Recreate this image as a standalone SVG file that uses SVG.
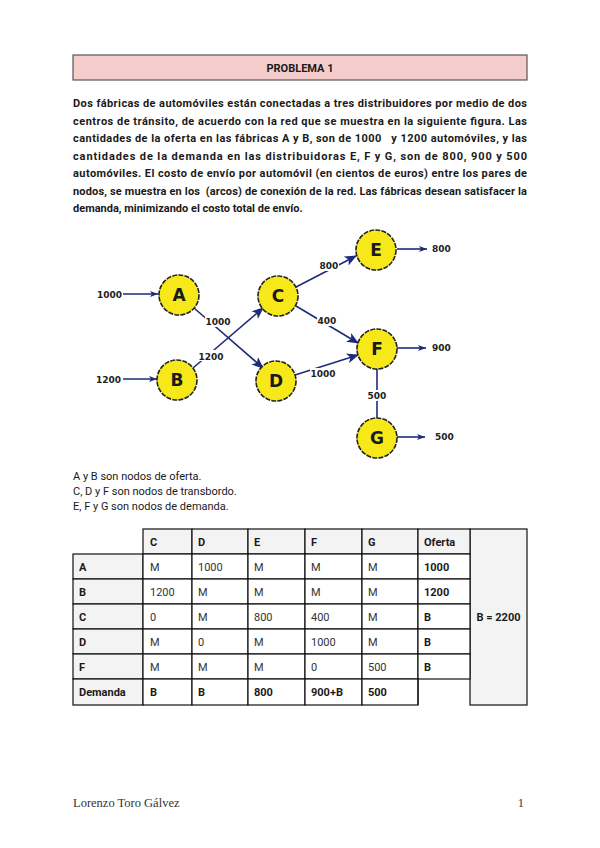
<svg xmlns="http://www.w3.org/2000/svg" width="600" height="848" viewBox="0 0 600 848">
<defs>
<style>
.p{font-family:Roboto,"Liberation Sans",sans-serif;font-size:11px;font-weight:bold;fill:#1a1a1a}
.n{font-family:Roboto,"Liberation Sans",sans-serif;font-size:11px;fill:#1a1a1a}
.nd{fill:#f7e81a;stroke:#222;stroke-width:1.6;stroke-dasharray:5 1.2}
.lt{font-family:"DejaVu Sans",Verdana,sans-serif;font-size:17px;font-weight:bold;fill:#1a1a1a;text-anchor:middle}
.el{font-family:"DejaVu Sans",Verdana,sans-serif;font-size:9px;font-weight:bold;fill:#222}
.e{stroke:#1f2a7a;stroke-width:1.6;fill:none}
.cell{fill:#fff;stroke:#111;stroke-width:1.2}
.hc{fill:#f3f3f3;stroke:#111;stroke-width:1.2}
.tb{font-family:Roboto,"Liberation Sans",sans-serif;font-size:11px;font-weight:bold;fill:#1a1a1a}
.tr{font-family:Roboto,"Liberation Sans",sans-serif;font-size:11px;fill:#333}
.ft{font-family:"Liberation Serif","DejaVu Serif",serif;font-size:12.5px;fill:#333}
</style>
<marker id="big" viewBox="0 0 12 10" refX="11" refY="5" markerWidth="12" markerHeight="10" markerUnits="userSpaceOnUse" orient="auto">
<path d="M0,0 L12,5 L0,10 L3,5 Z" fill="#1f2a7a"/>
</marker>
<marker id="sm" viewBox="0 0 8 6" refX="8" refY="3" markerWidth="8" markerHeight="6" markerUnits="userSpaceOnUse" orient="auto">
<path d="M0,0 L8,3 L0,6 L2,3 Z" fill="#1f2a7a"/>
</marker>
</defs>
<rect width="600" height="848" fill="#fff"/>

<g id="title">
<rect x="73" y="55" width="454" height="25" fill="#f4cccc" stroke="#555" stroke-width="1.2"/>
<text x="300" y="71.5" class="p" text-anchor="middle">PROBLEMA 1</text>
</g>

<g id="paragraph">
<text class="p" x="73" y="107" textLength="454" lengthAdjust="spacing">Dos fábricas de automóviles están conectadas a tres distribuidores por medio de dos</text>
<text class="p" x="73" y="124.5" textLength="454" lengthAdjust="spacing">centros de tránsito, de acuerdo con la red que se muestra en la siguiente figura. Las</text>
<text class="p" x="73" y="142" textLength="454" lengthAdjust="spacing" xml:space="preserve">cantidades de la oferta en las fábricas A y B, son de 1000   y 1200 automóviles, y las</text>
<text class="p" x="73" y="159.5" textLength="454" lengthAdjust="spacing">cantidades de la demanda en las distribuidoras E, F y G, son de 800, 900 y 500</text>
<text class="p" x="73" y="177" textLength="454" lengthAdjust="spacing">automóviles. El costo de envío por automóvil (en cientos de euros) entre los pares de</text>
<text class="p" x="73" y="194.5" textLength="454" lengthAdjust="spacing" xml:space="preserve">nodos, se muestra en los  (arcos) de conexión de la red. Las fábricas desean satisfacer la</text>
<text class="p" x="73" y="212">demanda, minimizando el costo total de envío.</text>
</g>

<g id="connectors">
<line class="e" x1="123" y1="294" x2="158" y2="294" marker-end="url(#sm)"/>
<line class="e" x1="123" y1="379" x2="157" y2="379" stroke-width="2.4" marker-end="url(#sm)"/>
<line class="e" x1="194" y1="308" x2="263" y2="368" marker-end="url(#big)"/>
<line class="e" x1="193" y1="368" x2="263" y2="308" marker-end="url(#big)"/>
<line class="e" x1="296" y1="287" x2="356" y2="256" marker-end="url(#big)"/>
<line class="e" x1="296" y1="306" x2="358" y2="343" marker-end="url(#big)"/>
<line class="e" x1="295" y1="375" x2="358" y2="355" marker-end="url(#big)"/>
<line class="e" x1="377" y1="369" x2="377" y2="418"/>
<line class="e" x1="397" y1="249" x2="427" y2="249" marker-end="url(#sm)"/>
<line class="e" x1="397" y1="348" x2="426" y2="348" marker-end="url(#sm)"/>
<line class="e" x1="397" y1="437" x2="425" y2="437" marker-end="url(#sm)"/>
<rect x="205" y="316" width="26" height="11" fill="#fff"/>
<rect x="198" y="350" width="26" height="11" fill="#fff"/>
<rect x="319" y="260" width="20" height="11" fill="#fff"/>
<rect x="317" y="315" width="20" height="11" fill="#fff"/>
<rect x="310" y="368" width="26" height="11" fill="#fff"/>
<rect x="367" y="390" width="20" height="11" fill="#fff"/>
<text class="el" x="97" y="297.5">1000</text>
<text class="el" x="96" y="382.5">1200</text>
<text class="el" x="218" y="325" text-anchor="middle">1000</text>
<text class="el" x="211" y="359.5" text-anchor="middle">1200</text>
<text class="el" x="329" y="269" text-anchor="middle">800</text>
<text class="el" x="327" y="324" text-anchor="middle">400</text>
<text class="el" x="323" y="377" text-anchor="middle">1000</text>
<text class="el" x="377" y="399" text-anchor="middle">500</text>
<text class="el" x="432" y="251.5">800</text>
<text class="el" x="432" y="350.5">900</text>
<text class="el" x="435" y="440">500</text>
</g>

<g id="node-A"><circle class="nd" cx="179" cy="295" r="20"/><text class="lt" x="179" y="301">A</text></g>
<g id="node-B"><circle class="nd" cx="177" cy="380" r="20"/><text class="lt" x="177" y="386">B</text></g>
<g id="node-C"><circle class="nd" cx="278" cy="296" r="20"/><text class="lt" x="278" y="302">C</text></g>
<g id="node-D"><circle class="nd" cx="276" cy="381" r="20"/><text class="lt" x="276" y="387">D</text></g>
<g id="node-E"><circle class="nd" cx="376" cy="250" r="20"/><text class="lt" x="376" y="256">E</text></g>
<g id="node-F"><circle class="nd" cx="377" cy="349" r="20"/><text class="lt" x="377" y="355">F</text></g>
<g id="node-G"><circle class="nd" cx="377" cy="438" r="20"/><text class="lt" x="377" y="444">G</text></g>

<g id="notes">
<text class="n" x="73" y="480">A y B son nodos de oferta.</text>
<text class="n" x="73" y="495">C, D y F son nodos de transbordo.</text>
<text class="n" x="73" y="510">E, F y G son nodos de demanda.</text>
</g>

<g id="table">
<rect class="hc" x="470" y="529" width="57" height="176"/>
<rect class="hc" x="143" y="529" width="49" height="25"/>
<rect class="hc" x="192" y="529" width="56" height="25"/>
<rect class="hc" x="248" y="529" width="57" height="25"/>
<rect class="hc" x="305" y="529" width="57" height="25"/>
<rect class="hc" x="362" y="529" width="56" height="25"/>
<rect class="hc" x="418" y="529" width="52" height="25"/>
<g>
<rect class="hc" x="73" y="554" width="70" height="25"/><rect class="cell" x="143" y="554" width="49" height="25"/><rect class="cell" x="192" y="554" width="56" height="25"/><rect class="cell" x="248" y="554" width="57" height="25"/><rect class="cell" x="305" y="554" width="57" height="25"/><rect class="cell" x="362" y="554" width="56" height="25"/><rect class="cell" x="418" y="554" width="52" height="25"/>
<rect class="hc" x="73" y="579" width="70" height="25"/><rect class="cell" x="143" y="579" width="49" height="25"/><rect class="cell" x="192" y="579" width="56" height="25"/><rect class="cell" x="248" y="579" width="57" height="25"/><rect class="cell" x="305" y="579" width="57" height="25"/><rect class="cell" x="362" y="579" width="56" height="25"/><rect class="cell" x="418" y="579" width="52" height="25"/>
<rect class="hc" x="73" y="604" width="70" height="25"/><rect class="cell" x="143" y="604" width="49" height="25"/><rect class="cell" x="192" y="604" width="56" height="25"/><rect class="cell" x="248" y="604" width="57" height="25"/><rect class="cell" x="305" y="604" width="57" height="25"/><rect class="cell" x="362" y="604" width="56" height="25"/><rect class="cell" x="418" y="604" width="52" height="25"/>
<rect class="hc" x="73" y="629" width="70" height="25"/><rect class="cell" x="143" y="629" width="49" height="25"/><rect class="cell" x="192" y="629" width="56" height="25"/><rect class="cell" x="248" y="629" width="57" height="25"/><rect class="cell" x="305" y="629" width="57" height="25"/><rect class="cell" x="362" y="629" width="56" height="25"/><rect class="cell" x="418" y="629" width="52" height="25"/>
<rect class="hc" x="73" y="654" width="70" height="25"/><rect class="cell" x="143" y="654" width="49" height="25"/><rect class="cell" x="192" y="654" width="56" height="25"/><rect class="cell" x="248" y="654" width="57" height="25"/><rect class="cell" x="305" y="654" width="57" height="25"/><rect class="cell" x="362" y="654" width="56" height="25"/><rect class="cell" x="418" y="654" width="52" height="25"/>
<rect class="hc" x="73" y="679" width="70" height="26"/><rect class="cell" x="143" y="679" width="49" height="26"/><rect class="cell" x="192" y="679" width="56" height="26"/><rect class="cell" x="248" y="679" width="57" height="26"/><rect class="cell" x="305" y="679" width="57" height="26"/><rect class="cell" x="362" y="679" width="56" height="26"/>
</g>
<line x1="418" y1="679" x2="418" y2="705" stroke="#111" stroke-width="1.2"/>
<text class="tb" x="150" y="545.5">C</text><text class="tb" x="198" y="545.5">D</text><text class="tb" x="254" y="545.5">E</text><text class="tb" x="311" y="545.5">F</text><text class="tb" x="368" y="545.5">G</text><text class="tb" x="424" y="545.5">Oferta</text>
<text class="tb" x="79" y="570.5">A</text><text class="tr" x="150" y="570.5">M</text><text class="tr" x="198" y="570.5">1000</text><text class="tr" x="254" y="570.5">M</text><text class="tr" x="311" y="570.5">M</text><text class="tr" x="368" y="570.5">M</text><text class="tb" x="424" y="570.5">1000</text>
<text class="tb" x="79" y="595.5">B</text><text class="tr" x="150" y="595.5">1200</text><text class="tr" x="198" y="595.5">M</text><text class="tr" x="254" y="595.5">M</text><text class="tr" x="311" y="595.5">M</text><text class="tr" x="368" y="595.5">M</text><text class="tb" x="424" y="595.5">1200</text>
<text class="tb" x="79" y="620.5">C</text><text class="tr" x="150" y="620.5">0</text><text class="tr" x="198" y="620.5">M</text><text class="tr" x="254" y="620.5">800</text><text class="tr" x="311" y="620.5">400</text><text class="tr" x="368" y="620.5">M</text><text class="tb" x="424" y="620.5">B</text>
<text class="tb" x="79" y="645.5">D</text><text class="tr" x="150" y="645.5">M</text><text class="tr" x="198" y="645.5">0</text><text class="tr" x="254" y="645.5">M</text><text class="tr" x="311" y="645.5">1000</text><text class="tr" x="368" y="645.5">M</text><text class="tb" x="424" y="645.5">B</text>
<text class="tb" x="79" y="670.5">F</text><text class="tr" x="150" y="670.5">M</text><text class="tr" x="198" y="670.5">M</text><text class="tr" x="254" y="670.5">M</text><text class="tr" x="311" y="670.5">0</text><text class="tr" x="368" y="670.5">500</text><text class="tb" x="424" y="670.5">B</text>
<text class="tb" x="79" y="696">Demanda</text><text class="tb" x="150" y="696">B</text><text class="tb" x="198" y="696">B</text><text class="tb" x="254" y="696">800</text><text class="tb" x="311" y="696">900+B</text><text class="tb" x="368" y="696">500</text>
<text class="tb" x="498.5" y="620.5" text-anchor="middle">B = 2200</text>
</g>

<g id="footer">
<text class="ft" x="73" y="807">Lorenzo Toro Gálvez</text>
<text class="ft" x="524" y="807" text-anchor="end">1</text>
</g>
</svg>
